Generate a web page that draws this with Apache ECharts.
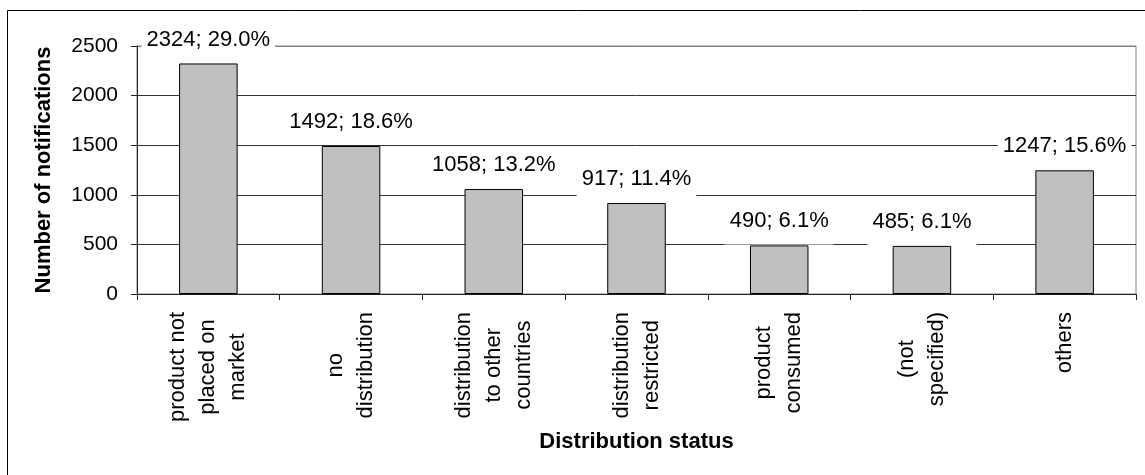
<!DOCTYPE html>
<html>
<head>
<meta charset="utf-8">
<script src="https://cdn.jsdelivr.net/npm/echarts@6/dist/echarts.min.js"></script>
<style>
html,body{margin:0;padding:0;background:#fff;}
#chart{width:1145px;height:475px;}
</style>
</head>
<body>
<div id="chart"></div>
<script>
const categories = ['product not\nplaced on\nmarket', 'no\ndistribution', 'distribution\nto other\ncountries', 'distribution\nrestricted', 'product\nconsumed', '(not\nspecified)', 'others'];
const values = [2324, 1492, 1058, 917, 490, 485, 1247];
const percents = ['29.0%', '18.6%', '13.2%', '11.4%', '6.1%', '6.1%', '15.6%'];
const yMin = 0, yMax = 2500, yStep = 500;
const xTitle = 'Distribution status';
const yTitle = 'Number of notifications';

const FONT = "'Liberation Sans', Arial, sans-serif";
const chart = echarts.init(document.getElementById('chart'), null, {renderer: 'canvas'});
chart.setOption({
  animation: false,
  backgroundColor: '#fff',
  graphic: [
    {type: 'line', shape: {x1: 7.5, y1: 10.5, x2: 1145, y2: 10.5}, style: {stroke: '#000', lineWidth: 1}},
    {type: 'line', shape: {x1: 7.5, y1: 10.5, x2: 7.5, y2: 475}, style: {stroke: '#000', lineWidth: 1}}
  ],
  grid: {left: 137, top: 46, right: 9, bottom: 181, show: true, borderColor: '#808080', borderWidth: 1, backgroundColor: 'transparent'},
  xAxis: {
    type: 'category',
    data: categories,
    name: xTitle,
    nameLocation: 'middle',
    nameGap: 137,
    nameTextStyle: {fontFamily: FONT, fontSize: 22, fontWeight: 'bold', color: '#000'},
    axisLine: {lineStyle: {color: '#222', width: 1}},
    axisTick: {show: true, length: 6, alignWithLabel: false, lineStyle: {color: '#222'}},
    axisLabel: {
      interval: 0,
      rotate: 90,
      margin: 18,
      formatter: v => v.split('\n').map(s => '{c|' + s + '}').join('\n'),
      rich: {c: {align: 'center', fontFamily: FONT, fontSize: 22, lineHeight: 30, color: '#000'}}
    },
    splitLine: {show: false}
  },
  yAxis: {
    type: 'value',
    min: yMin, max: yMax, interval: yStep,
    name: yTitle,
    nameLocation: 'middle',
    nameGap: 82,
    nameTextStyle: {fontFamily: FONT, fontSize: 22, fontWeight: 'bold', color: '#000'},
    axisLine: {show: true, lineStyle: {color: '#222', width: 1}},
    axisTick: {show: true, length: 6, lineStyle: {color: '#222'}},
    axisLabel: {margin: 19, fontFamily: FONT, fontSize: 21, color: '#000', formatter: v => String(v)},
    splitLine: {show: true, lineStyle: {color: ['#333', '#333', '#333', '#333', '#333', '#808080'], width: 1}}
  },
  series: [{
    type: 'bar',
    data: values,
    barCategoryGap: '59%',
    itemStyle: {color: '#c0c0c0', borderColor: '#000', borderWidth: 1},
    label: {
      show: true,
      position: 'top',
      distance: 1,
      formatter: p => p.value + '; ' + percents[p.dataIndex],
      fontFamily: FONT, fontSize: 22, lineHeight: 20, color: '#000',
      backgroundColor: '#fff',
      padding: [2, 5, 13, 5]
    }
  }]
});
</script>
</body>
</html>
